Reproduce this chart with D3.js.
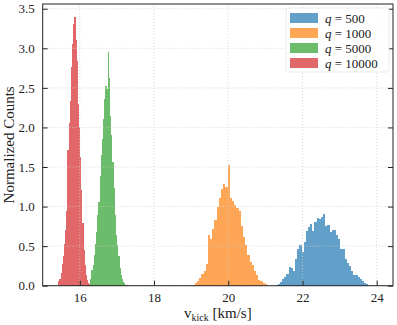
<!DOCTYPE html>
<html><head><meta charset="utf-8">
<script src="https://cdn.jsdelivr.net/npm/d3@7"></script>
<style>
body{margin:0;background:#fff}
svg{display:block}
text{font-family:"Liberation Serif","DejaVu Serif",serif;fill:#222}
</style>
</head><body>
<svg id="chart" width="397" height="325"></svg>
<script>
// ---- data ----
const seriesNames = ["500", "1000", "5000", "10000"];
const seriesColors = ["#1f77b4", "#ff7f0e", "#2ca02c", "#d62728"];
const binStart = [21.28, 18.98, 16.28, 15.42];
const binWidth = [0.058, 0.059, 0.0316, 0.031];
const heightsQ500 = [0.01,0.02,0.05,0.09,0.11,0.15,0.24,0.23,0.19,0.34,0.47,0.51,0.42,0.55,0.69,0.74,0.78,0.69,0.81,0.85,0.84,0.87,0.91,0.76,0.77,0.68,0.70,0.70,0.64,0.59,0.47,0.47,0.34,0.29,0.25,0.18,0.14,0.14,0.11,0.08,0.06,0.03,0.02];
const heightsQ1000 = [0.01,0.01,0.04,0.06,0.10,0.15,0.18,0.27,0.64,0.59,0.72,0.83,0.99,1.11,1.22,1.28,1.25,1.53,1.11,1.07,1.02,0.98,0.94,0.75,0.62,0.51,0.39,0.30,0.26,0.18,0.13,0.07,0.06,0.04,0.02];
const heightsQ5000 = [0.09,0.20,0.26,0.39,0.53,0.68,0.89,1.06,1.39,1.65,1.86,2.11,2.36,2.53,2.49,2.95,2.62,2.15,1.90,1.56,1.23,0.89,0.64,0.51,0.37,0.22,0.13,0.08,0.05,0.03,0.015,0.01];
const heightsQ10000 = [0.06,0.09,0.16,0.28,0.37,0.53,0.70,0.95,1.71,2.05,2.34,2.76,3.05,3.31,3.39,3.10,2.84,2.30,2.00,1.63,1.21,0.79,0.45,0.26,0.13,0.07,0.04,0.02];
const allHeights = [heightsQ500, heightsQ1000, heightsQ5000, heightsQ10000];
const xTicks = [16, 18, 20, 22, 24];
const yTicks = [0, 0.5, 1.0, 1.5, 2.0, 2.5, 3.0, 3.5];
const xLabelMain = "v";
const xLabelSub = "kick";
const xLabelUnit = " [km/s]";
const yLabel = "Normalized Counts";

// ---- layout ----
const svg = d3.select("#chart");
const L = 42.7, R = 393, T = 4, B = 285.7;
const x = d3.scaleLinear().domain([15, 24.44]).range([L, R]);
const y = d3.scaleLinear().domain([0, 3.56]).range([B, T]);

// bars
allHeights.forEach((hs, s) => {
  const bins = hs.map((h, i) => ({x0: binStart[s] + i * binWidth[s], x1: binStart[s] + (i + 1) * binWidth[s], h}));
  svg.append("g").attr("shape-rendering", "crispEdges").selectAll("rect").data(bins).join("rect")
    .attr("x", d => x(d.x0))
    .attr("width", d => x(d.x1) - x(d.x0))
    .attr("y", d => y(d.h))
    .attr("height", d => y(0) - y(d.h))
    .attr("fill", seriesColors[s])
    .attr("fill-opacity", 0.7);
});

// grid
const grid = svg.append("g").attr("stroke", "#cccccc").attr("stroke-width", 0.8).attr("stroke-dasharray", "1,2");
xTicks.forEach(t => grid.append("line").attr("x1", x(t)).attr("x2", x(t)).attr("y1", T).attr("y2", B));
yTicks.forEach(t => grid.append("line").attr("x1", L).attr("x2", R).attr("y1", y(t)).attr("y2", y(t)));

// axes
const ax = svg.append("g").attr("transform", `translate(0,${B})`)
  .call(d3.axisBottom(x).tickValues(xTicks).tickFormat(d3.format("d")).tickSizeInner(-5).tickSizeOuter(0).tickPadding(7));
const ay = svg.append("g").attr("transform", `translate(${L},0)`)
  .call(d3.axisLeft(y).tickValues(yTicks).tickFormat(d3.format(".1f")).tickSizeInner(-5).tickSizeOuter(0).tickPadding(8));
const ayr = svg.append("g").attr("transform", `translate(${R},0)`)
  .call(d3.axisRight(y).tickValues(yTicks).tickFormat("").tickSizeInner(-5).tickSizeOuter(0));
[ax, ay, ayr].forEach(g => {
  g.select(".domain").remove();
  g.selectAll(".tick line").attr("stroke", "#222").attr("stroke-width", 1);
  g.selectAll("text").attr("font-size", 13).attr("fill", "#222")
    .style("font-family", '"Liberation Serif","DejaVu Serif",serif');
});
svg.append("rect").attr("x", L).attr("y", T).attr("width", R - L).attr("height", B - T)
  .attr("fill", "none").attr("stroke", "#222").attr("stroke-width", 1);

// axis labels
const xl = svg.append("text").attr("x", (L + R) / 2).attr("y", 318).attr("text-anchor", "middle").attr("font-size", 15);
xl.append("tspan").text(xLabelMain);
xl.append("tspan").attr("font-size", 10).attr("dy", 3).text(xLabelSub);
xl.append("tspan").attr("dy", -3).text(xLabelUnit);
svg.append("text").attr("transform", `translate(14,${(T + B) / 2}) rotate(-90)`)
  .attr("text-anchor", "middle").attr("font-size", 15).text(yLabel);

// legend
const lg = svg.append("g").attr("transform", "translate(286,8)");
lg.append("rect").attr("width", 103).attr("height", 64).attr("rx", 2)
  .attr("fill", "#fff").attr("fill-opacity", 0.8).attr("stroke", "#e6e6e6").attr("stroke-opacity", 0.8);
seriesNames.forEach((n, i) => {
  const row = lg.append("g").attr("transform", `translate(0,${10 + i * 15})`);
  row.append("rect").attr("x", 4).attr("y", -5).attr("width", 28).attr("height", 10)
    .attr("fill", seriesColors[i]).attr("fill-opacity", 0.7);
  const t = row.append("text").attr("x", 39).attr("y", 4.5).attr("font-size", 13);
  t.append("tspan").attr("font-style", "italic").text("q");
  t.append("tspan").text(" = " + n);
});
</script>
</body></html>
